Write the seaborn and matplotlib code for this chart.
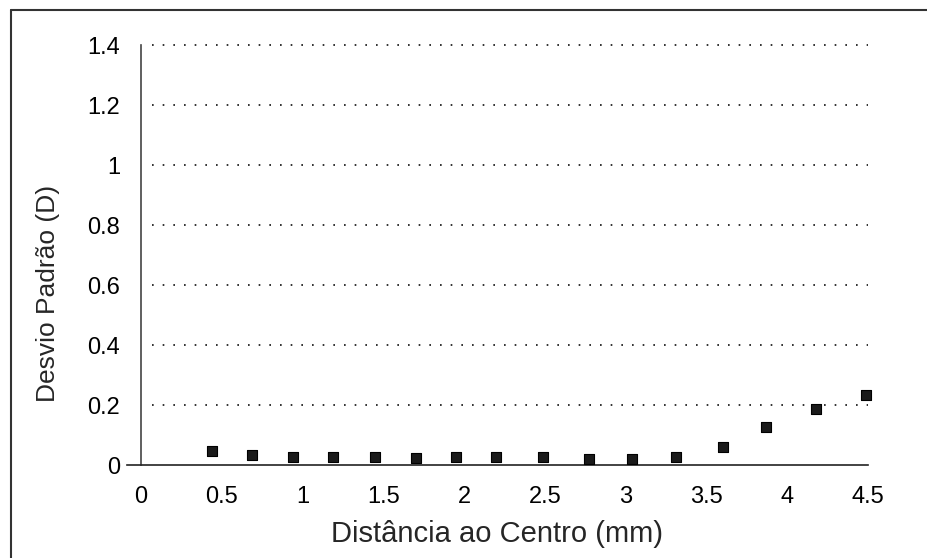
import numpy as np
import matplotlib
matplotlib.use("Agg")
import matplotlib.pyplot as plt
import seaborn as sns
import pandas as pd

# Desvio padrão vs distância ao centro
distancia = [0.44, 0.69, 0.94, 1.19, 1.45, 1.70, 1.95, 2.20, 2.49,
             2.77, 3.04, 3.31, 3.60, 3.87, 4.18, 4.49]
desvio = [0.047, 0.035, 0.027, 0.027, 0.027, 0.023, 0.027, 0.027, 0.027,
          0.020, 0.020, 0.027, 0.060, 0.127, 0.187, 0.233]

x_ticks = [0, 0.5, 1, 1.5, 2, 2.5, 3, 3.5, 4, 4.5]
x_labels = ["0", "0.5", "1", "1.5", "2", "2.5", "3", "3.5", "4", "4.5"]
y_ticks = [0, 0.2, 0.4, 0.6, 0.8, 1.0, 1.2, 1.4]
y_labels = ["0", "0.2", "0.4", "0.6", "0.8", "1", "1.2", "1.4"]
grid_levels = [0.2, 0.4, 0.6, 0.8, 1.0, 1.2, 1.4]

sns.set_style("white")
plt.rcParams['font.family'] = ['Liberation Sans', 'DejaVu Sans']

df = pd.DataFrame({"dist": distancia, "dp": desvio})

fig = plt.figure(figsize=(9.27, 5.58), dpi=100)
# axes: x=0 at px 141, x=4.5 at 868 ; y=0 at px 465, y=1.4 at 45
x0, x1 = -0.087, 4.5
ppu_x = (868 - 141) / 4.5
left_px = 141 + x0 * ppu_x
ax = fig.add_axes([left_px / 927, 1 - 465 / 558,
                   (868 - left_px) / 927, (465 - 30) / 558])
ax.set_xlim(x0, x1)
ax.set_ylim(0, 1.45)

ax.hlines(grid_levels, 0.07, 4.5, colors="#111111",
          linestyles=(0, (1, 5.4)), linewidth=1.2, zorder=1)

sns.scatterplot(data=df, x="dist", y="dp", marker="s", s=55,
                color="#1a1a1a", edgecolor="black", linewidth=0.8,
                ax=ax, zorder=3, legend=False, clip_on=False)

for s in ["top", "right"]:
    ax.spines[s].set_visible(False)
ax.spines["left"].set_position(("data", 0))
ax.spines["left"].set_bounds(0, 1.4)
ax.spines["left"].set_color("#444444")
ax.spines["bottom"].set_color("#222222")
ax.spines["left"].set_linewidth(1.2)
ax.spines["bottom"].set_linewidth(1.2)

ax.set_xticks(x_ticks)
ax.set_xticklabels(x_labels)
ax.set_yticks(y_ticks)
ax.set_yticklabels(y_labels)
ax.tick_params(axis="both", direction="out", length=10, width=1.3,
               color="#111111", labelsize=17, labelcolor="black")
ax.tick_params(axis="y", pad=5)
ax.tick_params(axis="x", pad=5)

ax.set_xlabel("Distância ao Centro (mm)", fontsize=21, labelpad=9)
ax.set_ylabel("")
fig.text(48 / 927, 1 - 293 / 558, "Desvio Padrão (D)", rotation=90,
         fontsize=19, ha="center", va="center")

# moldura parcial da figura
fig.add_artist(plt.Line2D([11 / 927, 11 / 927], [0, 1 - 10 / 558],
                          color="#333333", linewidth=1.5))
fig.add_artist(plt.Line2D([11 / 927, 1], [1 - 10 / 558, 1 - 10 / 558],
                          color="#333333", linewidth=1.5))

fig.savefig("out.png", dpi=100)
